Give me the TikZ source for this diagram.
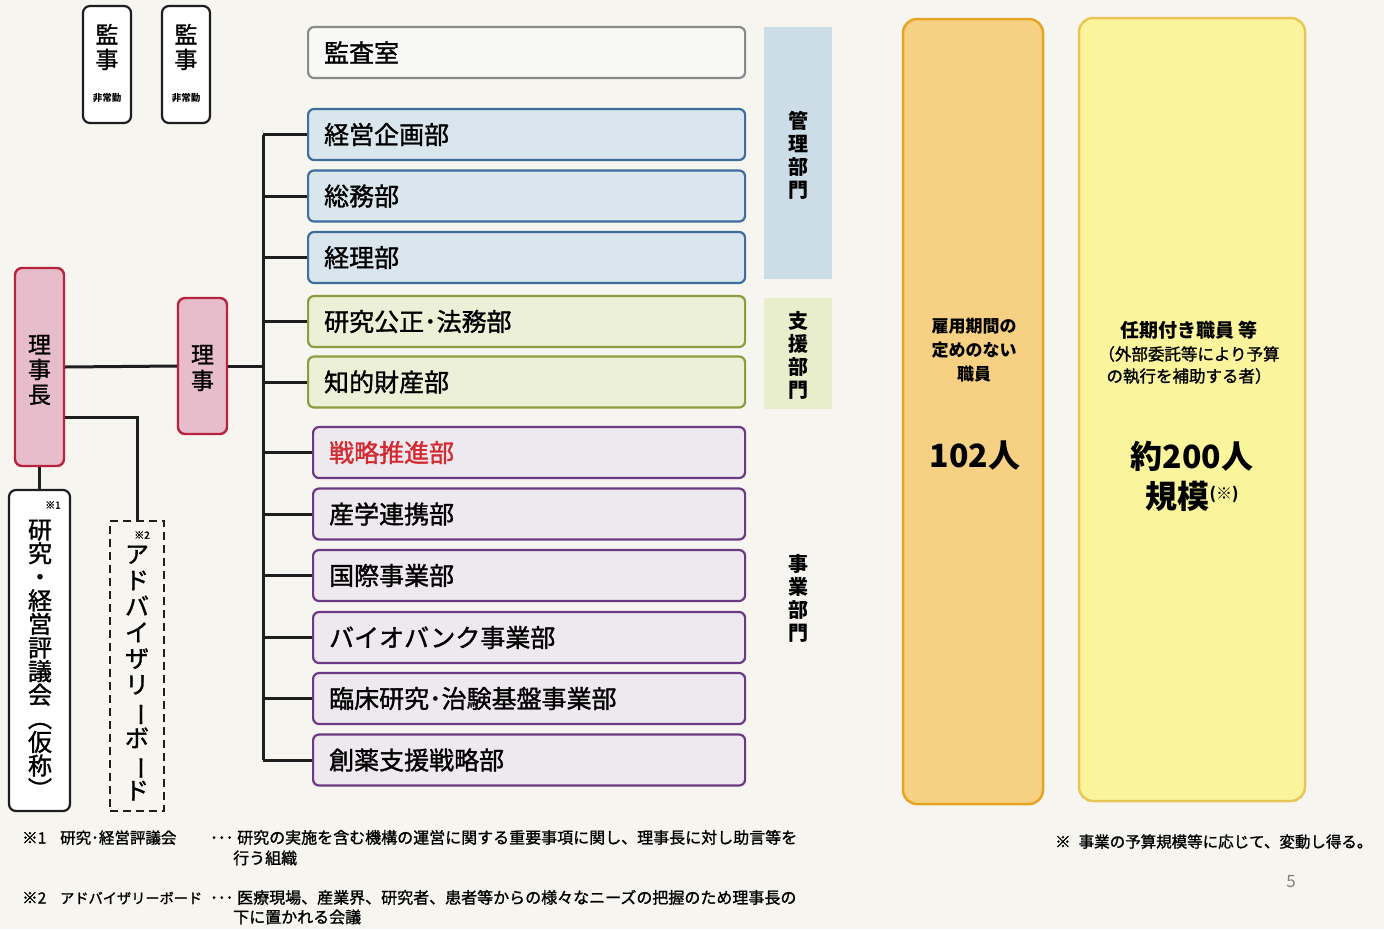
\documentclass[tikz,border=0pt]{standalone}
\usepackage{fontspec}
\usepackage{graphicx}
\setmainfont{Noto Sans CJK JP}
\newfontfamily\jpmed[FakeBold=1.3]{Noto Sans CJK JP}
\definecolor{bg}{HTML}{F6F5F0}
\definecolor{linecol}{HTML}{1E1E1E}
\definecolor{bluedr}{HTML}{3E6E9B}
\definecolor{bluefl}{HTML}{DAE6EE}
\definecolor{greendr}{HTML}{8C9D3F}
\definecolor{greenfl}{HTML}{ECF0D6}
\definecolor{purpdr}{HTML}{6C3A85}
\definecolor{purpfl}{HTML}{EEE9EE}
\definecolor{graydr}{HTML}{8A8A8A}
\definecolor{grayfl}{HTML}{F8F8F6}
\definecolor{pinkfl}{HTML}{E7BDCC}
\definecolor{pinkdr}{HTML}{B8243D}
\definecolor{bandblue}{HTML}{CCDDE8}
\definecolor{bandgreen}{HTML}{E8EDCB}
\definecolor{orangefl}{HTML}{F6D083}
\definecolor{orangedr}{HTML}{E5A424}
\definecolor{yellowfl}{HTML}{FAF59C}
\definecolor{yellowdr}{HTML}{EAC65A}
\definecolor{redtext}{HTML}{D42A32}
\newcommand{\myfs}[2]{\fontsize{#1}{#2}\selectfont}
\newcommand{\vbar}{\rotatebox[origin=c]{-90}{ー}}
\begin{document}
\begin{tikzpicture}[x=1pt,y=-1pt,
  conn/.style={line width=3pt, draw=linecol},
  dept/.style={draw, rounded corners=6pt, line width=2.2pt, minimum height=51pt,
    align=left, inner xsep=16pt, inner ysep=0pt, anchor=west, font=\jpmed\myfs{25}{28}},
  bluebox/.style={dept, draw=bluedr, fill=bluefl, text width=405pt},
  greenbox/.style={dept, draw=greendr, fill=greenfl, text width=405pt},
  purpbox/.style={dept, draw=purpdr, fill=purpfl, text width=400pt},
  graybox/.style={dept, draw=graydr, fill=grayfl, text width=405pt},
  kbox/.style={draw=linecol, line width=2.2pt, rounded corners=7pt, fill=white,
    minimum width=48pt, minimum height=117pt, inner sep=0pt},
  pinkbox/.style={draw=pinkdr, fill=pinkfl, line width=2.4pt, rounded corners=7pt, inner sep=0pt},
  vtext/.style={align=center, inner sep=0pt},
  band/.style={minimum width=68pt, inner sep=0pt},
  bandtext/.style={align=center, inner sep=0pt, font=\myfs{20}{23}\bfseries},
  fn/.style={anchor=base west, inner sep=0pt, font=\jpmed\myfs{15.5}{18}},
  bigbox/.style={rounded corners=14pt, line width=2.5pt, inner sep=0pt}
]
\useasboundingbox (0,0) rectangle (1384,929);
\fill[bg] (0,0) rectangle (1384,929);

% auditors
\node (k1) [kbox] at (107,64.5) {};
\node (k1t) [vtext, font=\jpmed\myfs{23}{25}] at (107,47) {監\\事};
\node (k1s) [vtext, font=\myfs{9.5}{11}\bfseries] at (107,98) {非常勤};
\node (k2) [kbox] at (186,64.5) {};
\node (k2t) [vtext, font=\jpmed\myfs{23}{25}] at (186,47) {監\\事};
\node (k2s) [vtext, font=\myfs{9.5}{11}\bfseries] at (186,98) {非常勤};

% departments
\node (d0) [graybox] at (307,52.5) {監査室};
\node (d1) [bluebox] at (307,134.5) {経営企画部};
\node (d2) [bluebox] at (307,196) {総務部};
\node (d3) [bluebox] at (307,257.5) {経理部};
\node (d4) [greenbox] at (307,321.5) {研究公正･法務部};
\node (d5) [greenbox] at (307,382) {知的財産部};
\node (d6) [purpbox, text=redtext] at (312,452.5) {戦略推進部};
\node (d7) [purpbox] at (312,514) {産学連携部};
\node (d8) [purpbox] at (312,575.5) {国際事業部};
\node (d9) [purpbox] at (312,637.5) {バイオバンク事業部};
\node (d10) [purpbox] at (312,698.5) {臨床研究･治験基盤事業部};
\node (d11) [purpbox] at (312,760) {創薬支援戦略部};

% section bands
\node (bA) [band, fill=bandblue, minimum height=252pt] at (798,153) {};
\node (bAt) [bandtext] at (798,155) {管\\理\\部\\門};
\node (bB) [band, fill=bandgreen, minimum height=111pt] at (798,353.5) {};
\node (bBt) [bandtext] at (798,355) {支\\援\\部\\門};
\node (bCt) [bandtext] at (798,598) {事\\業\\部\\門};

% executives
\node (rc) [pinkbox, minimum width=49pt, minimum height=198pt] at (39.5,367) {};
\node (rct) [vtext, font=\jpmed\myfs{23}{25}] at (39.5,370) {理\\事\\長};
\node (rj) [pinkbox, minimum width=49pt, minimum height=136pt] at (202.5,366) {};
\node (rjt) [vtext, font=\jpmed\myfs{23}{26}] at (202.5,368) {理\\事};

% councils
\node (hy) [draw=linecol, line width=2.2pt, rounded corners=7pt, fill=white,
  minimum width=61pt, minimum height=321pt, inner sep=0pt] at (39.5,650.5) {};
\node (hyt) [vtext, font=\jpmed\myfs{24}{23.6}] at (40,659) {研\\究\\・\\経\\営\\評\\議\\会\\︵\\仮\\称\\︶};
\node (hyn) [inner sep=0pt, font=\jpmed\myfs{10}{12}] at (53,505) {※1};
\node (ad) [draw=linecol, line width=2.4pt, dash pattern=on 8pt off 5pt,
  minimum width=54pt, minimum height=290pt, inner sep=0pt] at (137,666) {};
\node (adt) [vtext, font=\jpmed\myfs{24}{26.1}] at (137,673) {ア\\ド\\バ\\イ\\ザ\\リ\\\vbar\\ボ\\\vbar\\ド};
\node (adn) [inner sep=0pt, font=\jpmed\myfs{10}{12}] at (142,535) {※2};

% connectors
\coordinate (trunk) at (263,0);
\draw[conn] (d1.west -| trunk) -- (d11.west -| trunk);
\foreach \d in {d1,d2,d3,d4,d5,d6,d7,d8,d9,d10,d11}{
  \draw[conn] (\d.west -| trunk) -- (\d.west);
}
\draw[conn] (rc.east) -- (rj.west);
\draw[conn] (rj.east) -- (rj.east -| trunk);
\draw[conn] (rc.south) -- (hy.north);
\draw[conn] ([yshift=-50pt]rc.east) -| (ad.north);

% staff boxes
\node (ob) [bigbox, draw=orangedr, fill=orangefl, minimum width=140pt, minimum height=785pt] at (973,411.5) {};
\node (obt) [vtext, font=\myfs{17}{24}\bfseries] at (974,350.5) {雇用期間の\\定めのない\\職員};
\node (obn) [inner sep=0pt, font=\myfs{32}{36}\bfseries] at (975,456) {102人};
\node (yb) [bigbox, draw=yellowdr, fill=yellowfl, minimum width=226pt, minimum height=783pt] at (1192,409.5) {};
\node (ybt) [inner sep=0pt, font=\myfs{19}{22}\bfseries] at (1189,330) {任期付き職員 等};
\node (ybs) [vtext, font=\jpmed\myfs{16.5}{22}] at (1189,365) {（外部委託等により予算\\の執行を補助する者）};
\node (ybn) [inner sep=0pt, font=\myfs{32}{36}\bfseries] at (1192,456) {約200人};
\node (ybm) [inner sep=0pt, font=\myfs{32}{36}\bfseries] at (1192,496) {規模\raisebox{9pt}{\myfs{16}{18}(※)}};

% footnotes
\node (f1a) [fn] at (22,843.5) {※1};
\node (f1b) [fn] at (60,843.5) {研究･経営評議会};
\node (f1c) [fn] at (210,843.5) {･･･};
\node (f1d) [fn, font=\jpmed\myfs{16}{18}] at (237,843.5) {研究の実施を含む機構の運営に関する重要事項に関し、理事長に対し助言等を};
\node (f1e) [fn, font=\jpmed\myfs{16}{18}] at (233,864) {行う組織};
\node (f2a) [fn] at (22,903.5) {※2};
\node (f2b) [fn, font=\jpmed\myfs{14.2}{18}] at (60,903.5) {アドバイザリーボード};
\node (f2c) [fn] at (210,903.5) {･･･};
\node (f2d) [fn, font=\jpmed\myfs{16}{18}] at (237,903.5) {医療現場、産業界、研究者、患者等からの様々なニーズの把握のため理事長の};
\node (f2e) [fn, font=\jpmed\myfs{16}{18}] at (233,923) {下に置かれる会議};
\node (f3) [fn] at (1055,847.5) {※\hspace{8pt}事業の予算規模等に応じて、変動し得る。};
\node (pg) [inner sep=0pt, text=gray, font=\myfs{17}{20}] at (1291,882) {5};
\end{tikzpicture}
\end{document}
